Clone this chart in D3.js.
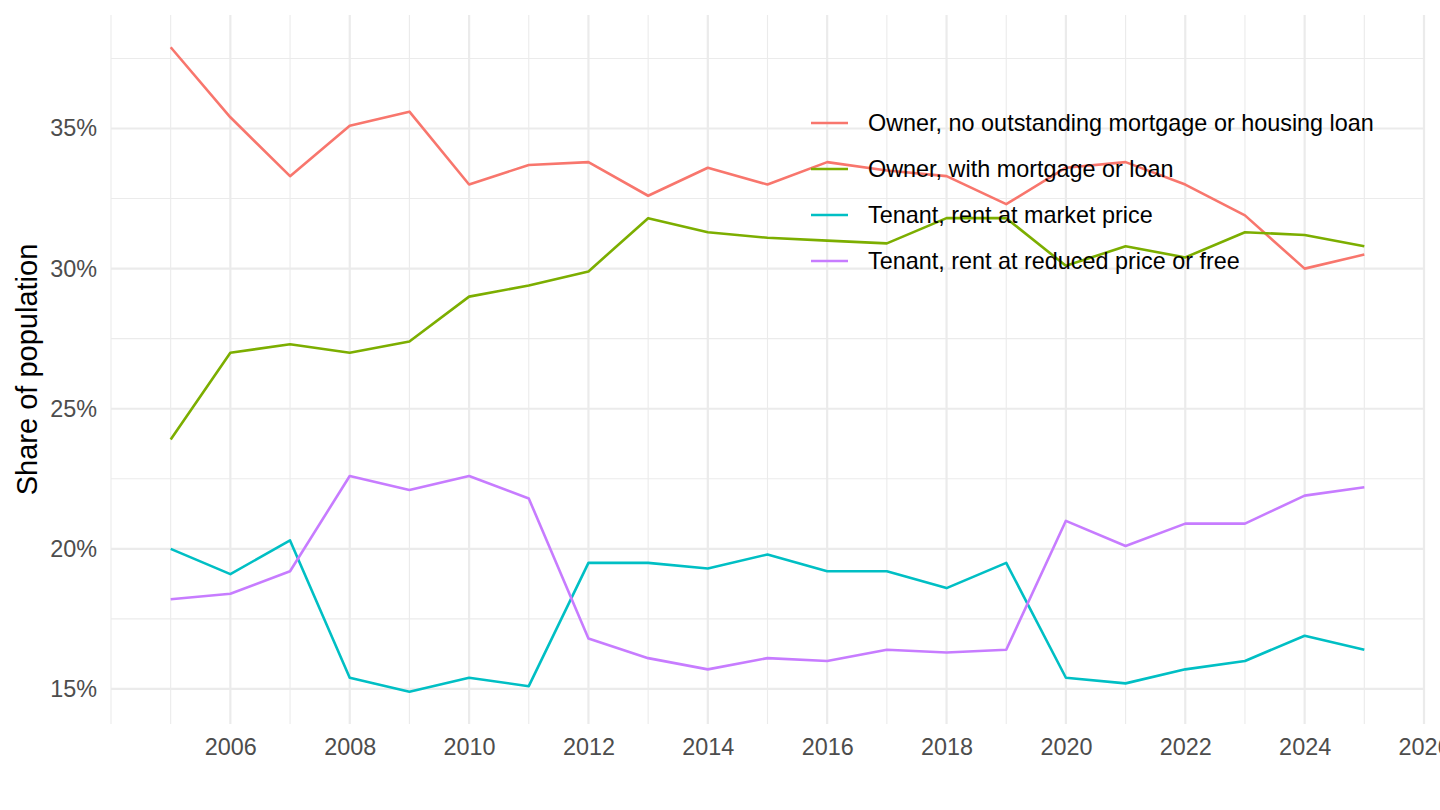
<html>
<script src='https://d3js.org/d3.v7.min.js'></script>
<style>
  body { margin: 0; background: #fff; }
  text { font-family: "Liberation Sans", Arial, sans-serif; }
</style>
<body>
<div id="my_dataviz"></div>
<script>
  // values (percent of population)
  var years = [2005, 2006, 2007, 2008, 2009, 2010, 2011, 2012, 2013, 2014, 2015,
               2016, 2017, 2018, 2019, 2020, 2021, 2022, 2023, 2024, 2025];

  var ownerNoLoan   = [37.9, 35.4, 33.3, 35.1, 35.6, 33.0, 33.7, 33.8, 32.6, 33.6, 33.0,
                       33.8, 33.5, 33.3, 32.3, 33.6, 33.8, 33.0, 31.9, 30.0, 30.5];
  var ownerMortgage = [23.9, 27.0, 27.3, 27.0, 27.4, 29.0, 29.4, 29.9, 31.8, 31.3, 31.1,
                       31.0, 30.9, 31.8, 31.8, 30.1, 30.8, 30.4, 31.3, 31.2, 30.8];
  var tenantMarket  = [20.0, 19.1, 20.3, 15.4, 14.9, 15.4, 15.1, 19.5, 19.5, 19.3, 19.8,
                       19.2, 19.2, 18.6, 19.5, 15.4, 15.2, 15.7, 16.0, 16.9, 16.4];
  var tenantReduced = [18.2, 18.4, 19.2, 22.6, 22.1, 22.6, 21.8, 16.8, 16.1, 15.7, 16.1,
                       16.0, 16.4, 16.3, 16.4, 21.0, 20.1, 20.9, 20.9, 21.9, 22.2];

  var seriesNames = ["Owner, no outstanding mortgage or housing loan",
                     "Owner, with mortgage or loan",
                     "Tenant, rent at market price",
                     "Tenant, rent at reduced price or free"];
  var seriesColors = ["#F8766D", "#7CAE00", "#00BFC4", "#C77CFF"];

  var xBreaks = [2006, 2008, 2010, 2012, 2014, 2016, 2018, 2020, 2022, 2024, 2026];
  var xMinor  = [2004, 2005, 2007, 2009, 2011, 2013, 2015, 2017, 2019, 2021, 2023, 2025];
  var yBreaks = [15, 20, 25, 30, 35];
  var yMinor  = [17.5, 22.5, 27.5, 32.5, 37.5];

  var series = [ownerNoLoan, ownerMortgage, tenantMarket, tenantReduced].map(function(vals, i) {
    return { name: seriesNames[i], color: seriesColors[i],
             values: vals.map(function(v, j) { return { year: years[j], value: v }; }) };
  });

  var W = 1440, H = 810;
  var panel = { left: 111, right: 1424, top: 15, bottom: 724 };

  var svg = d3.select("#my_dataviz")
    .append("svg")
      .attr("width", W)
      .attr("height", H);

  // ggplot style 5% expansion of the data range
  var xr = d3.extent(years), xpad = (xr[1] - xr[0]) * 0.05;
  var x = d3.scaleLinear()
    .domain([xr[0] - xpad, xr[1] + xpad])
    .range([panel.left, panel.right]);

  var all = [].concat(ownerNoLoan, ownerMortgage, tenantMarket, tenantReduced);
  var yr = d3.extent(all), ypad = (yr[1] - yr[0]) * 0.05;
  var y = d3.scaleLinear()
    .domain([yr[0] - ypad, yr[1] + ypad])
    .range([panel.bottom, panel.top]);

  var grid = svg.append("g");

  grid.selectAll(".vminor").data(xMinor).enter().append("line")
    .attr("x1", function(d) { return x(d); }).attr("x2", function(d) { return x(d); })
    .attr("y1", panel.top).attr("y2", panel.bottom)
    .attr("stroke", "#EBEBEB").attr("stroke-width", 1.1);
  grid.selectAll(".hminor").data(yMinor).enter().append("line")
    .attr("y1", function(d) { return y(d); }).attr("y2", function(d) { return y(d); })
    .attr("x1", panel.left).attr("x2", panel.right)
    .attr("stroke", "#EBEBEB").attr("stroke-width", 1.1);
  grid.selectAll(".vmajor").data(xBreaks).enter().append("line")
    .attr("x1", function(d) { return x(d); }).attr("x2", function(d) { return x(d); })
    .attr("y1", panel.top).attr("y2", panel.bottom)
    .attr("stroke", "#EBEBEB").attr("stroke-width", 2.2);
  grid.selectAll(".hmajor").data(yBreaks).enter().append("line")
    .attr("y1", function(d) { return y(d); }).attr("y2", function(d) { return y(d); })
    .attr("x1", panel.left).attr("x2", panel.right)
    .attr("stroke", "#EBEBEB").attr("stroke-width", 2.2);

  // axes (no domain line, no ticks, like theme_minimal)
  var xAxis = svg.append("g")
    .attr("transform", "translate(0," + panel.bottom + ")")
    .call(d3.axisBottom(x).tickValues(xBreaks).tickSize(0).tickPadding(31).tickFormat(d3.format("d")));
  var yAxis = svg.append("g")
    .attr("transform", "translate(" + panel.left + ",0)")
    .call(d3.axisLeft(y).tickValues(yBreaks).tickSize(0).tickPadding(14).tickFormat(function(d) { return d + "%"; }));
  [xAxis, yAxis].forEach(function(a) {
    a.select(".domain").remove();
    a.selectAll("text")
      .attr("fill", "#4D4D4D")
      .style("font-size", "23.4px")
      .style("font-family", '"Liberation Sans", Arial, sans-serif');
  });
  xAxis.selectAll("text").attr("dy", null).attr("y", 31);

  svg.append("text")
    .attr("transform", "translate(36.5," + ((panel.top + panel.bottom) / 2) + ") rotate(-90)")
    .attr("text-anchor", "middle")
    .attr("fill", "#000")
    .style("font-size", "29px")
    .text("Share of population");

  var line = d3.line()
    .x(function(d) { return x(d.year); })
    .y(function(d) { return y(d.value); });

  svg.selectAll(".series").data(series).enter().append("path")
    .attr("fill", "none")
    .attr("stroke", function(d) { return d.color; })
    .attr("stroke-width", 2.6)
    .attr("stroke-linejoin", "round")
    .attr("d", function(d) { return line(d.values); });

  // legend inside the panel, top right
  var legend = svg.append("g").attr("transform", "translate(811,123)");
  var rows = legend.selectAll(".row").data(series).enter().append("g")
    .attr("transform", function(d, i) { return "translate(0," + (i * 46) + ")"; });
  rows.append("line")
    .attr("x1", 0).attr("x2", 37)
    .attr("stroke", function(d) { return d.color; })
    .attr("stroke-width", 2.6);
  rows.append("text")
    .attr("x", 57)
    .attr("dy", "0.35em")
    .attr("fill", "#000")
    .style("font-size", "23.4px")
    .text(function(d) { return d.name; });
</script>
</body>
</html>
